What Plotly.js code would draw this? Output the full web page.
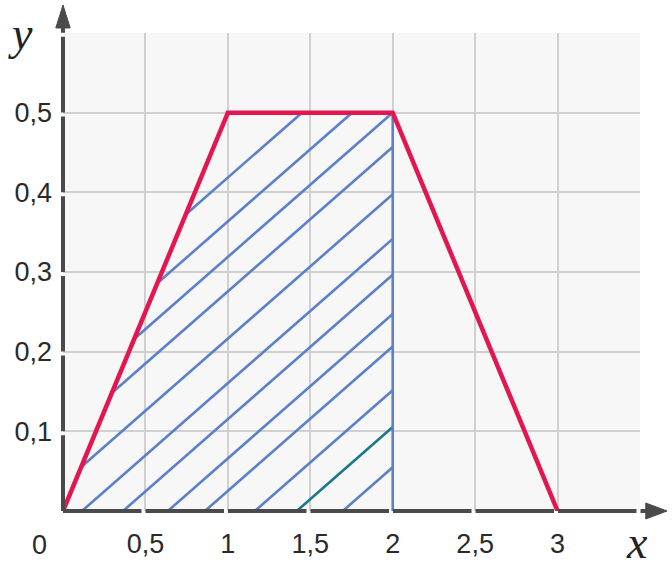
<!DOCTYPE html>
<html>
<head>
<meta charset="utf-8">
<script src="https://cdn.plot.ly/plotly-3.0.1.min.js"></script>
<style>
  html, body { margin: 0; padding: 0; background: #ffffff; }
  #chart { width: 672px; height: 568px; }
</style>
</head>
<body>
<div id="chart"></div>
<script>
// ---- data ----
// trapezoid (density-like) curve
var curveX = [0, 1, 2, 3];
var curveY = [0, 0.5, 0.5, 0];
// hatched region bound on the right
var hatchRight = 2;
// x where each hatch line crosses y = 0 (extended), and common slope
var hatchIntercepts = [-1.31, -1.006, -0.76, -0.521, -0.194, 0.115, 0.364, 0.636, 0.861, 1.164, 1.697];
var tealIntercepts = [1.418];
var hatchSlope = 0.1812;
// ticks
var xTickVals = [0, 0.5, 1, 1.5, 2, 2.5, 3, 3.5];
var xTickText = ['', '0,5', '1', '1,5', '2', '2,5', '3', ''];
var yTickVals = [0, 0.1, 0.2, 0.3, 0.4, 0.5, 0.6];
var yTickText = ['', '0,1', '0,2', '0,3', '0,4', '0,5', ''];

// upper boundary of the curve (piecewise linear through curve points)
function curveAt(x) {
  for (var i = 0; i < curveX.length - 1; i++) {
    if (x >= curveX[i] && x <= curveX[i + 1]) {
      var t = (x - curveX[i]) / (curveX[i + 1] - curveX[i]);
      return curveY[i] + t * (curveY[i + 1] - curveY[i]);
    }
  }
  return 0;
}
// clip a hatch line y = s (x - b) to region 0<=y<=curve(x), 0<=x<=hatchRight
function hatchSegment(b) {
  var s = hatchSlope;
  // sample-free exact clipping via bisection on g(x) = curve(x) - s(x-b)
  var x0 = Math.max(b, 0);
  if (s * (x0 - b) > curveAt(x0)) {
    var lo = x0, hi = hatchRight;
    for (var k = 0; k < 60; k++) {
      var m = (lo + hi) / 2;
      if (s * (m - b) > curveAt(m)) lo = m; else hi = m;
    }
    x0 = hi;
  }
  var x1 = hatchRight;
  if (s * (x1 - b) > curveAt(x1)) {
    var lo2 = x0, hi2 = hatchRight;
    for (var j = 0; j < 60; j++) {
      var m2 = (lo2 + hi2) / 2;
      if (s * (m2 - b) <= curveAt(m2)) lo2 = m2; else hi2 = m2;
    }
    x1 = lo2;
  }
  return [[x0, s * (x0 - b)], [x1, s * (x1 - b)]];
}
function buildHatch(list) {
  var xs = [], ys = [];
  list.forEach(function (b) {
    var seg = hatchSegment(b);
    xs.push(seg[0][0], seg[1][0], null);
    ys.push(seg[0][1], seg[1][1], null);
  });
  return {x: xs, y: ys};
}
var hatch = buildHatch(hatchIntercepts);
var teal = buildHatch(tealIntercepts);

var blue = '#5b80c9';
var traces = [
  {x: hatch.x, y: hatch.y, mode: 'lines', line: {color: blue, width: 2.6}, hoverinfo: 'skip', showlegend: false},
  {x: teal.x, y: teal.y, mode: 'lines', line: {color: '#17798a', width: 2.6}, hoverinfo: 'skip', showlegend: false},
  {x: [hatchRight, hatchRight], y: [0, curveAt(hatchRight)], mode: 'lines', line: {color: blue, width: 2.6}, hoverinfo: 'skip', showlegend: false},
  {x: curveX, y: curveY, mode: 'lines', line: {color: '#e4164f', width: 4.5}, hoverinfo: 'skip', showlegend: false}
];

// axis geometry helpers (paper coords)
var axisColor = '#4a4a4a';
var shapes = [
  {type: 'line', xref: 'paper', yref: 'paper', x0: 0, y0: 0, x1: 1.012, y1: 0,
   line: {color: axisColor, width: 4, dash: '78.5px,4px'}, layer: 'above'},
  {type: 'line', xref: 'paper', yref: 'paper', x0: 0, y0: 0, x1: 0, y1: 1.022,
   line: {color: axisColor, width: 4, dash: '75.7px,4px'}, layer: 'above'},
  {type: 'path', xref: 'paper', yref: 'paper', layer: 'above',
   path: 'M 1.010 0.0167 L 1.0468 0 L 1.010 -0.0167 Z',
   fillcolor: axisColor, line: {color: axisColor, width: 1}},
  {type: 'path', xref: 'paper', yref: 'paper', layer: 'above',
   path: 'M -0.0125 1.0105 L 0 1.0586 L 0.0125 1.0105 Z',
   fillcolor: axisColor, line: {color: axisColor, width: 1}}
];

var tickFont = {family: 'Liberation Sans, Arial, sans-serif', size: 27, color: '#2a2a2a'};
var titleFont = {family: 'Liberation Serif, Times New Roman, serif', size: 46, color: '#222222'};

var layout = {
  width: 672, height: 568,
  margin: {l: 63, r: 32, t: 33, b: 57, pad: 0},
  paper_bgcolor: '#ffffff',
  plot_bgcolor: '#f7f7f7',
  separators: ', ',
  showlegend: false,
  xaxis: {
    range: [0, 3.5], tickmode: 'array', tickvals: xTickVals, ticktext: xTickText,
    showgrid: true, gridcolor: '#d0d0d0', gridwidth: 2, zeroline: false, showline: false,
    ticks: '', tickfont: tickFont, ticklabelstandoff: 14, fixedrange: true
  },
  yaxis: {
    range: [0, 0.6], tickmode: 'array', tickvals: yTickVals, ticktext: yTickText,
    showgrid: true, gridcolor: '#d0d0d0', gridwidth: 2, zeroline: false, showline: false,
    ticks: '', tickfont: tickFont, ticklabelstandoff: 10, fixedrange: true
  },
  shapes: shapes,
  annotations: [
    {text: '0', xref: 'paper', yref: 'paper', x: -0.04, y: -0.072, xanchor: 'center', yanchor: 'middle',
     showarrow: false, font: tickFont},
    {text: '<i>x</i>', xref: 'paper', yref: 'paper', x: 0.995, y: -0.066, xanchor: 'center', yanchor: 'middle',
     showarrow: false, font: titleFont},
    {text: '<i>y</i>', xref: 'paper', yref: 'paper', x: -0.073, y: 1.0, xanchor: 'center', yanchor: 'middle',
     showarrow: false, font: titleFont}
  ]
};

Plotly.newPlot('chart', traces, layout, {displayModeBar: false, staticPlot: true});
</script>
</body>
</html>
